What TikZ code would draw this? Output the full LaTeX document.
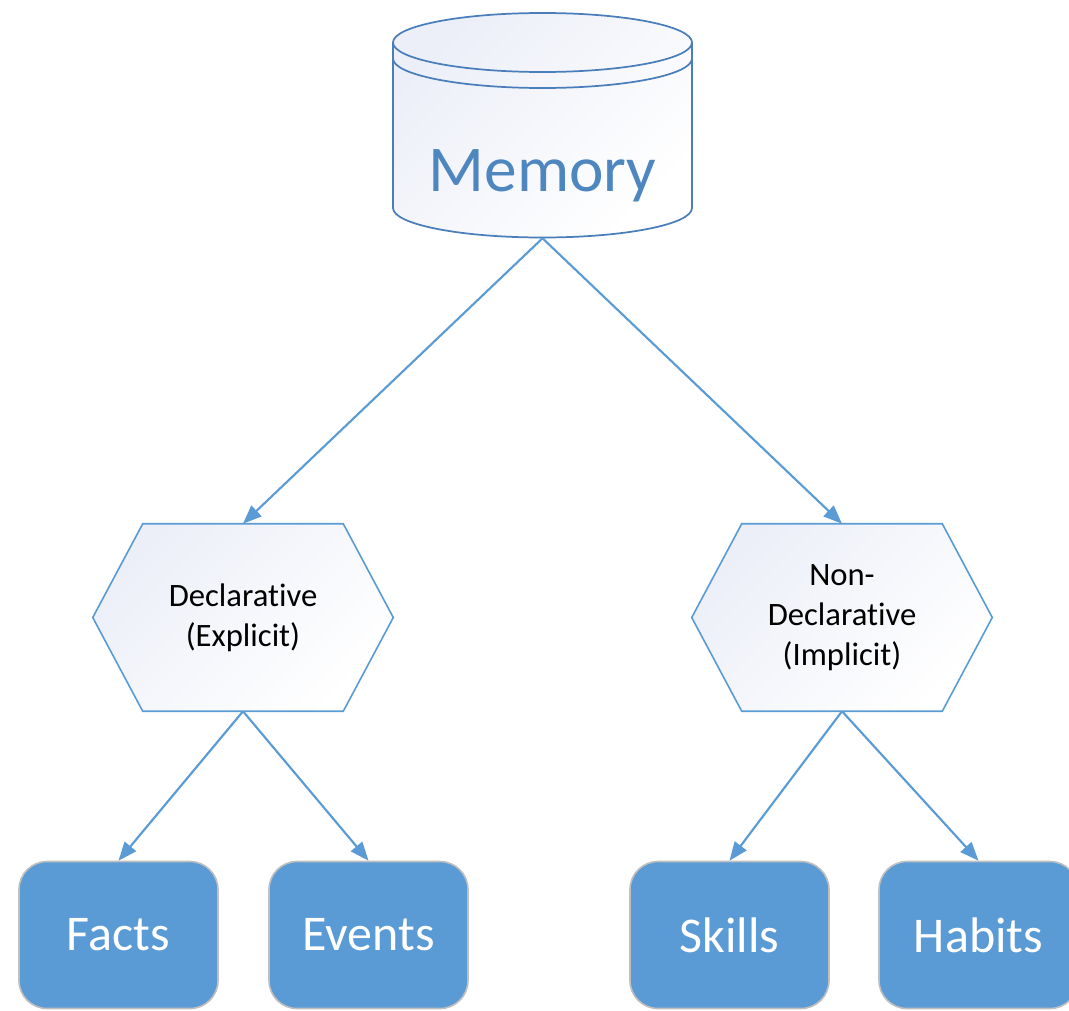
\documentclass[tikz,border=0pt]{standalone}
\usepackage{fontspec}
\setmainfont{Carlito}[Ligatures=NoCommon]
\usetikzlibrary{arrows.meta,calc,backgrounds}
\definecolor{accent}{HTML}{5B9BD5}
\definecolor{cylline}{HTML}{4A7EBB}
\definecolor{memtext}{HTML}{4E86BF}
\definecolor{lav}{HTML}{ECEFF8}
\definecolor{boxline}{HTML}{BFBFBF}
\begin{document}
\begin{tikzpicture}[x=0.75pt,y=-0.75pt,
  conn/.style={draw=accent, line width=1.6pt, -{Triangle[length=14pt,width=11pt]}},
  softfill/.style={top color=lav, bottom color=white, shading angle=45},
  cylbody/.style={draw=none, minimum width=224.25pt, minimum height=168.75pt, inner sep=0pt},
  hexnode/.style={draw=none, minimum width=225pt, minimum height=140.25pt, inner sep=0pt,
    align=center, text=black, font=\fontsize{24.5pt}{30pt}\selectfont},
  hexline/.style={draw=accent, line width=1.2pt, softfill},
  leaf/.style={draw=boxline, line width=1.2pt, fill=accent, rounded corners=21pt,
    minimum width=149.25pt, minimum height=110.25pt, inner sep=0pt, text=white,
    font=\fontsize{37.5pt}{45pt}\selectfont},
  memlab/.style={text=memtext, font=\fontsize{49pt}{59pt}\selectfont, inner sep=0pt}
]
\path[use as bounding box] (0,0) rectangle (1069,1010);

% Memory cylinder
\node[cylbody] (memory) at (542.5,125.5) {};
\shade[softfill] (393,42.5) -- (393,208)
  arc[start angle=180, end angle=0, x radius=149.5, y radius=29.5]
  -- (692,42.5)
  arc[start angle=0, end angle=-180, x radius=149.5, y radius=29.5] -- cycle;
\draw[cylline, line width=1.3pt] (393,42.5) -- (393,208)
  arc[start angle=180, end angle=0, x radius=149.5, y radius=29.5]
  -- (692,42.5);
\draw[cylline, line width=1.3pt] (542.5,42.5) ellipse[x radius=149.5, y radius=29.5];
\draw[cylline, line width=1.3pt] (393,58.5)
  arc[start angle=180, end angle=0, x radius=149.5, y radius=29.5];
\node[memlab, anchor=base] (memlabel) at (542.5,191) {Memory};

% Hexagons
\node[hexnode] (decl) at (243,617.5) {Declarative\\(Explicit)};
\node[hexnode] (nondecl) at (842,617.5) {Non-\\Declarative\\(Implicit)};
\begin{scope}[on background layer]
\foreach \h in {decl,nondecl}{
  \draw[hexline] (\h.west) -- ($(\h.north west)+(50,0)$) -- ($(\h.north east)+(-50,0)$)
    -- (\h.east) -- ($(\h.south east)+(-50,0)$) -- ($(\h.south west)+(50,0)$) -- cycle;
}
\end{scope}

% Leaves
\node[leaf] (facts) at (118.5,935) {Facts};
\node[leaf] (events) at (368.5,935) {Events};
\node[leaf] (skills) at (729.5,935) {Skills};
\node[leaf] (habits) at (978.5,935) {Habits};

% Connectors
\draw[conn] (memory.south) -- (decl.north);
\draw[conn] (memory.south) -- (nondecl.north);
\draw[conn] (decl.south) -- (facts.north);
\draw[conn] (decl.south) -- (events.north);
\draw[conn] (nondecl.south) -- (skills.north);
\draw[conn] (nondecl.south) -- (habits.north);
\end{tikzpicture}
\end{document}
